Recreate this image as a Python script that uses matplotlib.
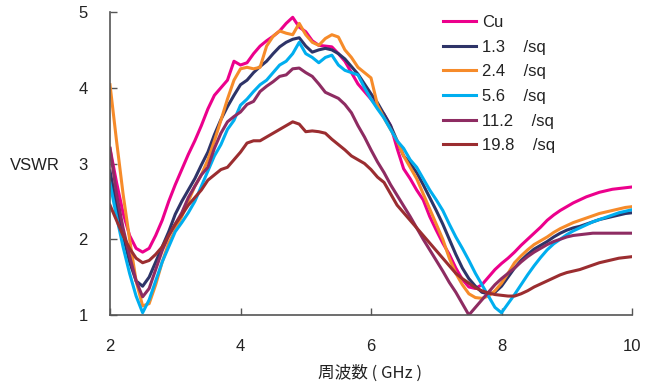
import numpy as np
import matplotlib
matplotlib.use('Agg')
import matplotlib.pyplot as plt

plt.rcParams['font.family'] = ['Liberation Sans', 'DejaVu Sans']

#frequency grid (GHz), 0.1 GHz steps
freq = np.round(np.arange(2.0, 10.01, 0.1), 1)

#VSWR values
cu = [3.2, 2.75, 2.35, 2.05, 1.88, 1.83, 1.88, 2.05, 2.25, 2.5,
      2.72, 2.92, 3.12, 3.3, 3.5, 3.72, 3.9, 4.0, 4.1, 4.35,
      4.3, 4.33, 4.45, 4.55, 4.62, 4.68, 4.75, 4.85, 4.93, 4.8,
      4.74, 4.62, 4.56, 4.55, 4.54, 4.45, 4.35, 4.2, 4.05, 3.95,
      3.85, 3.75, 3.65, 3.5, 3.2, 2.93, 2.8, 2.65, 2.52, 2.3,
      2.12, 1.95, 1.8, 1.62, 1.47, 1.37, 1.35, 1.4, 1.5, 1.6,
      1.68, 1.75, 1.83, 1.92, 2.0, 2.08, 2.16, 2.25, 2.32, 2.38,
      2.43, 2.48, 2.52, 2.56, 2.59, 2.62, 2.64, 2.66, 2.67, 2.68, 2.69]
r13 = [2.9, 2.45, 2.05, 1.7, 1.45, 1.38, 1.5, 1.7, 1.9, 2.1,
       2.33, 2.5, 2.65, 2.8, 2.98, 3.15, 3.38, 3.58, 3.75, 3.9,
       4.04, 4.1, 4.2, 4.28, 4.35, 4.45, 4.54, 4.6, 4.64, 4.66,
       4.55, 4.47, 4.5, 4.52, 4.5, 4.45, 4.38, 4.28, 4.18, 4.05,
       3.92, 3.8, 3.65, 3.5, 3.3, 3.1, 3.0, 2.88, 2.72, 2.55,
       2.38, 2.2, 2.0, 1.8, 1.62, 1.48, 1.38, 1.3, 1.28, 1.3,
       1.38, 1.5, 1.62, 1.72, 1.8, 1.87, 1.92, 1.97, 2.03, 2.08,
       2.12, 2.15, 2.17, 2.2, 2.23, 2.26, 2.28, 2.3, 2.32, 2.34, 2.35]
r24 = [4.04, 3.3, 2.6, 2.0, 1.45, 1.12, 1.15, 1.4, 1.7, 1.95,
       2.12, 2.3, 2.5, 2.7, 2.85, 3.05, 3.3, 3.57, 3.85, 4.1,
       4.25, 4.27, 4.25, 4.27, 4.55, 4.68, 4.75, 4.72, 4.7, 4.85,
       4.7, 4.6, 4.56, 4.65, 4.7, 4.67, 4.5, 4.4, 4.27, 4.2,
       4.13, 3.77, 3.6, 3.45, 3.3, 3.1, 2.95, 2.8, 2.6, 2.4,
       2.2, 2.0, 1.75, 1.55, 1.4, 1.28, 1.23, 1.22, 1.25, 1.32,
       1.42, 1.55, 1.69, 1.78, 1.86, 1.93, 1.98, 2.03, 2.09, 2.14,
       2.18, 2.22, 2.25, 2.28, 2.31, 2.34, 2.36, 2.38, 2.4, 2.42, 2.43]
r56 = [2.74, 2.3, 1.9, 1.55, 1.25, 1.03, 1.2, 1.45, 1.7, 1.9,
       2.1, 2.22, 2.35, 2.5, 2.7, 2.9, 3.1, 3.25, 3.45, 3.57,
       3.77, 3.85, 3.95, 4.04, 4.1, 4.2, 4.3, 4.35, 4.45, 4.6,
       4.45, 4.4, 4.33, 4.4, 4.43, 4.3, 4.23, 4.2, 4.17, 4.0,
       3.85, 3.72, 3.6, 3.45, 3.3, 3.2, 3.05, 2.95, 2.8, 2.65,
       2.52, 2.38, 2.2, 2.03, 1.88, 1.72, 1.55, 1.4, 1.25, 1.1,
       1.03, 1.15, 1.27, 1.4, 1.53, 1.65, 1.76, 1.86, 1.94, 2.0,
       2.06, 2.11, 2.15, 2.19, 2.23, 2.26, 2.29, 2.32, 2.35, 2.37, 2.39]
r112 = [3.2, 2.6, 2.15, 1.78, 1.45, 1.24, 1.35, 1.6, 1.85, 2.05,
        2.2, 2.35, 2.55, 2.7, 2.85, 2.95, 3.2, 3.4, 3.55, 3.62,
        3.68, 3.78, 3.82, 3.95, 4.02, 4.08, 4.15, 4.17, 4.25, 4.26,
        4.2, 4.15, 4.05, 3.94, 3.9, 3.86, 3.78, 3.67, 3.5, 3.35,
        3.18, 3.02, 2.88, 2.72, 2.58, 2.44, 2.3, 2.15, 2.0, 1.86,
        1.72, 1.58, 1.43, 1.3, 1.15, 1.0, 1.1, 1.2, 1.3, 1.4,
        1.48, 1.55, 1.62, 1.7, 1.77, 1.83, 1.88, 1.93, 1.97, 2.0,
        2.03, 2.05, 2.06, 2.07, 2.08, 2.08, 2.08, 2.08, 2.08, 2.08, 2.08]
r198 = [2.45, 2.25, 2.05, 1.88, 1.75, 1.69, 1.72, 1.8, 1.9, 2.05,
        2.2, 2.32, 2.45, 2.55, 2.65, 2.78, 2.85, 2.92, 2.95, 3.05,
        3.15, 3.27, 3.3, 3.3, 3.35, 3.4, 3.45, 3.5, 3.55, 3.52,
        3.42, 3.43, 3.42, 3.4, 3.32, 3.25, 3.18, 3.1, 3.05, 3.0,
        2.92, 2.82, 2.75, 2.6, 2.45, 2.35, 2.25, 2.15, 2.05, 1.95,
        1.85, 1.75, 1.65, 1.55, 1.48, 1.42, 1.36, 1.32, 1.29, 1.27,
        1.26, 1.25, 1.25, 1.28, 1.32, 1.37, 1.41, 1.45, 1.49, 1.53,
        1.56, 1.58, 1.6, 1.63, 1.66, 1.69, 1.71, 1.73, 1.75, 1.76, 1.77]

labels = ['Cu', '1.3    /sq', '2.4    /sq', '5.6    /sq', '11.2    /sq', '19.8    /sq']
colors = ['#EC008C', '#2E3468', '#F68B2A', '#00AEEF', '#8E2C62', '#9B2D30']
series = [cu, r13, r24, r56, r112, r198]

fig = plt.figure(figsize=(6.6, 3.85), dpi=100)
ax = fig.add_axes([110/660, 1-315/385, 522/660, 303/385])

for vals, lab, col in zip(series, labels, colors):
    ax.plot(freq, vals, color=col, lw=2.2, label=lab)

ax.set_xlim(2, 10)
ax.set_ylim(1, 5)
ax.set_xticks([2, 4, 6, 8, 10])
ax.set_yticks([1, 2, 3, 4, 5])

ax.spines['top'].set_visible(False)
ax.spines['right'].set_visible(False)
for s in ['left', 'bottom']:
    ax.spines[s].set_color('#555555')
    ax.spines[s].set_linewidth(1.2)
ax.tick_params(axis='both', direction='in', length=5, width=1, color='#555555',
               labelsize=12, labelcolor='#222222')
ax.tick_params(axis='x', pad=17)
ax.tick_params(axis='y', pad=16)

#y label horizontal at left
fig.text(10/660, 1-165/385, 'VSWR', ha='left', va='center', fontsize=12, color='#222222')
#x label with japanese text
fig.text(370/660, 1-373/385, '周波数 ( GHz )', ha='center', va='center', fontsize=12,
         color='#222222', family=['Noto Sans CJK JP', 'DejaVu Sans'])

leg = ax.legend(loc='upper left', bbox_to_anchor=(428/660, 1-0/385),
                bbox_transform=fig.transFigure, frameon=False, fontsize=12,
                handlelength=2.0, labelspacing=0.58, handletextpad=0.35)
for t in leg.get_texts():
    t.set_color('#222222')

fig.savefig('out.png', dpi=100)
